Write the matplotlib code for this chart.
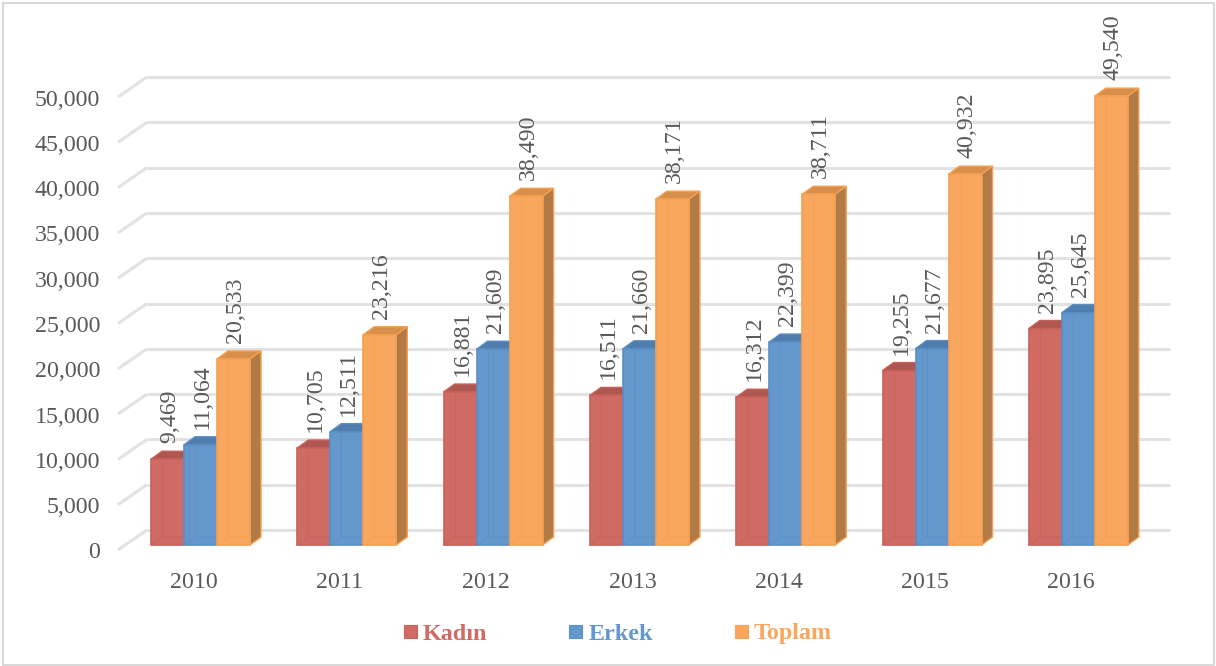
import matplotlib
matplotlib.use("Agg")
from matplotlib import pyplot as plt
from matplotlib.patches import Polygon, Rectangle

plt.rcParams['font.family'] = ['Liberation Serif', 'DejaVu Serif']

years = ['2010', '2011', '2012', '2013', '2014', '2015', '2016']
kadin = [9469, 10705, 16881, 16511, 16312, 19255, 23895]
erkek = [11064, 12511, 21609, 21660, 22399, 21677, 25645]
toplam = [20533, 23216, 38490, 38171, 38711, 40932, 49540]
y_ticks = [0, 5000, 10000, 15000, 20000, 25000, 30000, 35000, 40000, 45000, 50000]

names = ['Kadın', 'Erkek', 'Toplam']
values = [kadin, erkek, toplam]
front_col = ['#CF6B64', '#6497CC', '#F9A75F']
top_col = ['#AD5750', '#4F7DAD', '#D98F4C']
side_col = ['#9E4F49', '#48729E', '#B27A45']
edge_col = ['#C9605A', '#5B8EC4', '#F5A052']

W, H = 1216, 666
fig = plt.figure(figsize=(W / 100, H / 100), dpi=100)
ax = fig.add_axes([0, 0, 1, 1])

# pixel layout of the picture
x0, group = 200.5, 146.3   # centre of first group, spacing
y0, per = 545.0, 0.00906   # pixel of value 0, pixels per unit
ax.set_xlim((0 - x0) / group, (W - x0) / group)
ax.set_ylim((y0 - H) / per, y0 / per)
ax.axis('off')

bw = 33 / group        # bar width
ddx = 11 / group       # bar depth
ddy = 8 / per
wall_x0 = (147 - x0) / group
wall_x1 = (1170 - x0) / group
floor_dx = 29 / group
floor_dy = 20 / per
wall_dy = 15 / per

fig.patches.append(Rectangle((2.5 / W, 1 - 664.5 / H), 1211 / W, 661.5 / H, transform=fig.transFigure,
                             fc='none', ec='#D9D9D9', lw=1.5))

# back wall grid and the slanted floor lines
for t in y_ticks:
    y = t + wall_dy
    ax.plot([wall_x0, wall_x1], [y, y], color='#E2E2E2', lw=2.2, zorder=1, solid_capstyle='butt')
    ax.plot([wall_x0 - floor_dx, wall_x0], [y - floor_dy, y], color='#E2E2E2', lw=2.2, zorder=1,
            solid_capstyle='butt')
    ax.text((100 - x0) / group, t - 8 / per, f'{t:,}', ha='right', va='center', fontsize=17.2, color='#595959')

z = 2
for i, year in enumerate(years):
    ax.text(i - 7 / group, -37 / per, year, ha='center', va='center', fontsize=17.2, color='#595959')
    for s in range(3):
        v = values[s][i]
        left = i + (s - 1.5) * bw
        right = left + bw
        # inner floor and back corner seen through the front
        ax.add_patch(Polygon([(left, v), (left + ddx, v + ddy), (right + ddx, v + ddy), (right, v)],
                             fc=top_col[s], ec=edge_col[s], lw=1, zorder=z))
        ax.add_patch(Polygon([(right, 0), (right + ddx, ddy), (right + ddx, v + ddy), (right, v)],
                             fc=side_col[s], ec=edge_col[s], lw=1, zorder=z))
        ax.add_patch(Rectangle((left, 0), bw, v, fc=front_col[s], ec=edge_col[s], lw=1.2, zorder=z + 0.1))
        # faint inner edges of the translucent box
        ax.plot([left + ddx, left + ddx], [ddy, v], color=edge_col[s], lw=0.8, alpha=0.7, zorder=z + 0.2)
        ax.plot([left, left + ddx, right], [0, ddy, ddy], color=edge_col[s], lw=0.8, alpha=0.7, zorder=z + 0.2)
        z += 1

# value labels go above everything
for i in range(len(years)):
    for s in range(3):
        v = values[s][i]
        ax.text(i + (s - 1.5) * bw + bw / 2 + 2 / group, v + ddy + 8 / per, f'{v:,}', rotation=90,
                ha='center', va='bottom', fontsize=17.2, color='#595959', zorder=100)

# legend
patch_x = [404, 569, 735]
text_x = [423, 589, 754]
for s in range(3):
    fig.patches.append(Rectangle((patch_x[s] / W, 1 - 637.5 / H), 13 / W, 13 / H, transform=fig.transFigure,
                                 fc=front_col[s], ec=edge_col[s], lw=0.8))
    fig.text(text_x[s] / W, 1 - 634 / H, names[s], ha='left', va='center', fontsize=17.4, fontweight='bold',
             color=front_col[s])

fig.savefig('out.png', dpi=100, facecolor='white')
